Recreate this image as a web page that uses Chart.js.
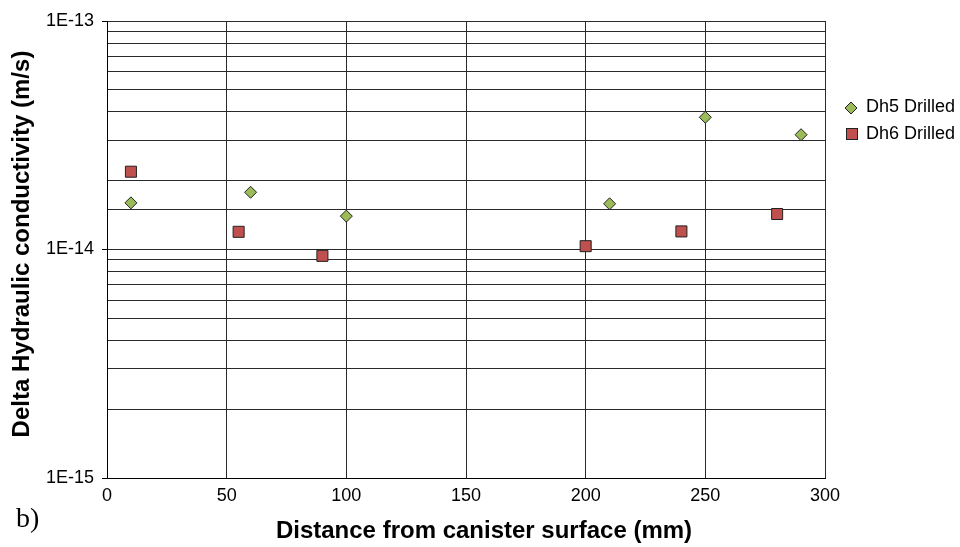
<!DOCTYPE html>
<html>
<head>
<meta charset="utf-8">
<script src="https://cdn.jsdelivr.net/npm/chart.js@4/dist/chart.umd.min.js"></script>
<style>
  body { margin: 0; background: #fff; }
</style>
</head>
<body>
<canvas id="grafico" width="960" height="547"></canvas>
<script>
// distance from canister surface (mm) and delta hydraulic conductivity (m/s)
const dh5Dist = [10, 60, 100, 210, 250, 290];
const dh5Values = [1.60e-14, 1.78e-14, 1.40e-14, 1.585e-14, 3.79e-14, 3.18e-14];

const dh6Dist = [10, 55, 90, 200, 240, 280];
const dh6Values = [2.19e-14, 1.195e-14, 0.938e-14, 1.034e-14, 1.20e-14, 1.43e-14];

const seriesNames = ["Dh5 Drilled", "Dh6 Drilled"];
const xTicks = [0, 50, 100, 150, 200, 250, 300];

const tituloX = "Distance from canister surface (mm)";
const tituloY = "Delta Hydraulic conductivity (m/s)";

const fonte = 'Arial, "Liberation Sans", sans-serif';

function pontos(xs, ys) {
    return xs.map((x, i) => ({ x: x, y: ys[i] }));
}

function potenciaDeDez(v) {
    const l = Math.log10(v);
    return Math.abs(l - Math.round(l)) < 1e-6;
}

// axis titles, legend on the right and the "b)" label
const extras = {
    id: "extras",
    afterDraw(chart) {
        const ctx = chart.ctx;
        ctx.save();

        ctx.fillStyle = "#000";
        ctx.font = "bold 24px " + fonte;
        ctx.textAlign = "center";
        ctx.textBaseline = "alphabetic";
        ctx.fillText(tituloX, 484, 538);

        ctx.save();
        ctx.translate(29, 244);
        ctx.rotate(-Math.PI / 2);
        ctx.fillText(tituloY, 0, 0);
        ctx.restore();

        // diamond
        ctx.beginPath();
        ctx.moveTo(851, 102);
        ctx.lineTo(857, 108);
        ctx.lineTo(851, 114);
        ctx.lineTo(845, 108);
        ctx.closePath();
        ctx.fillStyle = "#9bbb59";
        ctx.fill();
        ctx.lineWidth = 1;
        ctx.strokeStyle = "#222";
        ctx.stroke();

        // square
        ctx.fillStyle = "#c0504d";
        ctx.fillRect(846.5, 128.5, 11, 11);
        ctx.strokeRect(846.5, 128.5, 11, 11);

        ctx.fillStyle = "#000";
        ctx.font = "18px " + fonte;
        ctx.textBaseline = "middle";
        ctx.textAlign = "left";
        ctx.fillText(seriesNames[0], 866, 107);
        ctx.fillText(seriesNames[1], 866, 134);

        ctx.font = '28px "Liberation Serif", "Times New Roman", serif';
        ctx.textBaseline = "alphabetic";
        ctx.fillText("b)", 16, 527);

        ctx.restore();
    }
};

const ctx = document.getElementById("grafico").getContext("2d");

new Chart(ctx, {
    type: "scatter",
    data: {
        datasets: [
            {
                label: seriesNames[0],
                data: pontos(dh5Dist, dh5Values),
                pointStyle: "rectRot",
                pointRadius: 6,
                pointHoverRadius: 6,
                backgroundColor: "#9bbb59",
                borderColor: "#222",
                borderWidth: 1
            },
            {
                label: seriesNames[1],
                data: pontos(dh6Dist, dh6Values),
                pointStyle: "rect",
                pointRadius: 7.8,
                pointHoverRadius: 7.8,
                backgroundColor: "#c0504d",
                borderColor: "#222",
                borderWidth: 1
            }
        ]
    },
    options: {
        responsive: false,
        animation: false,
        layout: {
            padding: { left: 0, right: 135, top: 21, bottom: 0 }
        },
        plugins: {
            legend: { display: false },
            tooltip: { enabled: false }
        },
        scales: {
            x: {
                type: "linear",
                min: 0,
                max: 300,
                afterBuildTicks(scale) {
                    scale.ticks = xTicks.map(v => ({ value: v }));
                },
                afterFit(scale) {
                    scale.height = 69;
                },
                grid: {
                    color: "#2a2a2a",
                    lineWidth: 1,
                    drawTicks: false
                },
                border: { color: "#000", width: 1 },
                ticks: {
                    color: "#000",
                    font: { family: fonte, size: 18 },
                    padding: 7,
                    maxRotation: 0
                }
            },
            y: {
                type: "logarithmic",
                min: 1e-15,
                max: 1e-13,
                afterFit(scale) {
                    scale.width = 107;
                },
                grid: {
                    color: "#2a2a2a",
                    lineWidth: 1,
                    tickLength: 5,
                    tickColor: c => (c.tick && potenciaDeDez(c.tick.value)) ? "#000" : "rgba(0,0,0,0)"
                },
                border: { color: "#000", width: 1 },
                ticks: {
                    autoSkip: false,
                    color: "#000",
                    font: { family: fonte, size: 18 },
                    padding: 8,
                    callback: v => potenciaDeDez(v) ? "1E" + Math.round(Math.log10(v)) : ""
                }
            }
        }
    },
    plugins: [extras]
});
</script>
</body>
</html>
